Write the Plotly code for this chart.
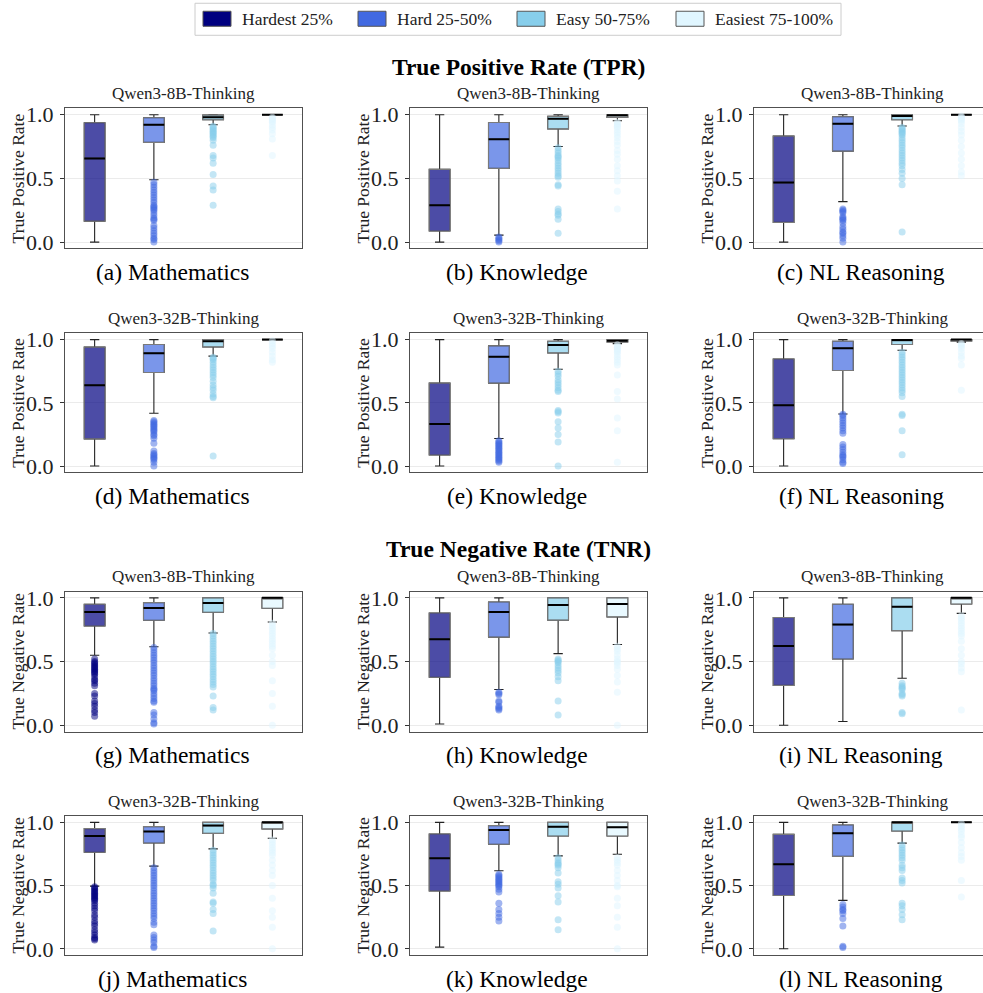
import plotly.graph_objects as go

W, H = 983, 993
FONT = "Liberation Serif"

# ---------------- data ----------------
difficulty = ["Hardest 25%", "Hard 25-50%", "Easy 50-75%", "Easiest 75-100%"]
colors = ["#000080", "#4169E1", "#87CEEB", "#E0F6FF"]
subjects = ["Mathematics", "Knowledge", "NL Reasoning"]
models = ["Qwen3-8B-Thinking", "Qwen3-32B-Thinking"]
letters = ["a", "b", "c", "d", "e", "f", "g", "h", "i", "j", "k", "l"]
section_titles = ["True Positive Rate (TPR)", "True Negative Rate (TNR)"]
metric_labels = ["True Positive Rate", "True Negative Rate"]
tick_vals = [0.0, 0.5, 1.0]
tick_text = ["0.0", "0.5", "1.0"]

# box stats per difficulty: [lower whisker, q1, median, q3, upper whisker]
tpr_8b_math = [[0.0, 0.165, 0.657, 0.937, 1.0], [0.49, 0.783, 0.921, 0.976, 1.0],
               [0.921, 0.96, 0.98, 0.997, 1.0], [1.0, 1.0, 1.0, 1.0, 1.0]]
tpr_8b_know = [[0.0, 0.087, 0.289, 0.571, 1.0], [0.055, 0.579, 0.808, 0.939, 1.0],
               [0.75, 0.889, 0.968, 0.987, 1.0], [0.953, 0.979, 0.995, 1.0, 1.0]]
tpr_8b_nlr = [[0.0, 0.155, 0.467, 0.832, 1.0], [0.318, 0.714, 0.929, 0.984, 1.0],
              [0.911, 0.961, 0.99, 1.0, 1.0], [1.0, 1.0, 1.0, 1.0, 1.0]]
tpr_32b_math = [[0.0, 0.215, 0.638, 0.94, 1.0], [0.417, 0.74, 0.892, 0.961, 1.0],
                [0.869, 0.942, 0.987, 1.0, 1.0], [1.0, 1.0, 1.0, 1.0, 1.0]]
tpr_32b_know = [[0.0, 0.087, 0.333, 0.656, 1.0], [0.218, 0.656, 0.864, 0.95, 1.0],
                [0.766, 0.895, 0.958, 0.987, 1.0], [0.968, 0.982, 0.99, 1.0, 1.0]]
tpr_32b_nlr = [[0.0, 0.216, 0.48, 0.847, 1.0], [0.412, 0.755, 0.931, 0.987, 1.0],
               [0.916, 0.961, 0.997, 1.0, 1.0], [0.98, 0.99, 1.0, 1.0, 1.0]]
tnr_8b_math = [[0.55, 0.779, 0.889, 0.95, 1.0], [0.616, 0.824, 0.921, 0.963, 1.0],
               [0.724, 0.887, 0.96, 1.0, 1.0], [0.811, 0.918, 1.0, 1.0, 1.0]]
tnr_8b_know = [[0.01, 0.377, 0.676, 0.881, 1.0], [0.281, 0.692, 0.889, 0.968, 1.0],
               [0.562, 0.825, 0.944, 1.0, 1.0], [0.634, 0.851, 0.952, 1.0, 1.0]]
tnr_8b_nlr = [[0.0, 0.313, 0.623, 0.846, 1.0], [0.03, 0.52, 0.79, 0.95, 1.0],
              [0.369, 0.743, 0.931, 1.0, 1.0], [0.878, 0.952, 1.0, 1.0, 1.0]]
tnr_32b_math = [[0.496, 0.764, 0.892, 0.95, 1.0], [0.654, 0.837, 0.927, 0.966, 1.0],
                [0.79, 0.913, 0.974, 1.0, 1.0], [0.874, 0.948, 1.0, 1.0, 1.0]]
tnr_32b_know = [[0.013, 0.457, 0.717, 0.908, 1.0], [0.617, 0.827, 0.94, 0.974, 1.0],
                [0.735, 0.892, 0.966, 1.0, 1.0], [0.748, 0.892, 0.961, 1.0, 1.0]]
tnr_32b_nlr = [[0.0, 0.422, 0.668, 0.905, 1.0], [0.383, 0.731, 0.913, 0.979, 1.0],
               [0.836, 0.931, 1.0, 1.0, 1.0], [1.0, 1.0, 1.0, 1.0, 1.0]]

# outliers per difficulty
tpr_8b_math_out = [
    [],
    [0.47, 0.45, 0.43, 0.41, 0.39, 0.37, 0.35, 0.33, 0.31, 0.29, 0.28, 0.27, 0.26, 0.25, 0.23,
     0.21, 0.19, 0.18, 0.17, 0.13, 0.11, 0.09, 0.07, 0.05, 0.03, 0.02, 0.0],
    [0.91, 0.90, 0.89, 0.88, 0.87, 0.86, 0.85, 0.84, 0.83, 0.82, 0.80, 0.76, 0.68, 0.66, 0.62,
     0.53, 0.44, 0.41, 0.29],
    [0.98, 0.97, 0.96, 0.95, 0.94, 0.92, 0.90, 0.88, 0.85, 0.81, 0.68]]
tpr_8b_know_out = [
    [],
    [0.04, 0.03, 0.02, 0.01, 0.0],
    [0.74, 0.72, 0.70, 0.68, 0.67, 0.66, 0.64, 0.62, 0.60, 0.58, 0.56, 0.54, 0.52, 0.51, 0.45,
     0.44, 0.26, 0.24, 0.22, 0.21, 0.18, 0.07],
    [0.94, 0.93, 0.92, 0.91, 0.90, 0.88, 0.86, 0.84, 0.82, 0.79, 0.76, 0.72, 0.69, 0.65, 0.60,
     0.56, 0.52, 0.48, 0.40, 0.26]]
tpr_8b_nlr_out = [
    [],
    [0.26, 0.25, 0.24, 0.23, 0.20, 0.19, 0.18, 0.17, 0.15, 0.12, 0.10, 0.08, 0.07, 0.05, 0.03, 0.0],
    [0.90, 0.89, 0.88, 0.87, 0.86, 0.85, 0.84, 0.82, 0.80, 0.78, 0.76, 0.74, 0.72, 0.70, 0.68,
     0.66, 0.64, 0.62, 0.60, 0.57, 0.54, 0.50, 0.45, 0.08],
    [0.99, 0.98, 0.97, 0.96, 0.95, 0.93, 0.90, 0.87, 0.84, 0.80, 0.75, 0.70, 0.65, 0.60, 0.55, 0.52]]
tpr_32b_math_out = [
    [],
    [0.36, 0.35, 0.34, 0.33, 0.32, 0.31, 0.30, 0.29, 0.28, 0.27, 0.25, 0.24, 0.22, 0.18, 0.12,
     0.10, 0.09, 0.08, 0.07, 0.06, 0.05, 0.03, 0.0],
    [0.86, 0.85, 0.84, 0.82, 0.80, 0.78, 0.76, 0.74, 0.72, 0.70, 0.67, 0.64, 0.62, 0.60, 0.57,
     0.55, 0.54, 0.08],
    [0.99, 0.97, 0.95, 0.93, 0.90, 0.87, 0.84, 0.82]]
tpr_32b_know_out = [
    [],
    [0.20, 0.19, 0.18, 0.17, 0.16, 0.15, 0.14, 0.13, 0.12, 0.11, 0.10, 0.09, 0.08, 0.07, 0.06,
     0.05, 0.04, 0.03],
    [0.75, 0.73, 0.71, 0.68, 0.66, 0.64, 0.62, 0.60, 0.59, 0.44, 0.43, 0.42, 0.35, 0.30, 0.25,
     0.19, 0.0],
    [0.96, 0.95, 0.94, 0.93, 0.92, 0.91, 0.90, 0.88, 0.86, 0.84, 0.82, 0.80, 0.72, 0.59, 0.53,
     0.38, 0.28, 0.03]]
tpr_32b_nlr_out = [
    [],
    [0.41, 0.40, 0.38, 0.36, 0.34, 0.32, 0.30, 0.28, 0.26, 0.17, 0.15, 0.13, 0.11, 0.09, 0.08,
     0.07, 0.05, 0.03, 0.02],
    [0.90, 0.88, 0.86, 0.84, 0.82, 0.80, 0.78, 0.76, 0.74, 0.72, 0.70, 0.68, 0.66, 0.64, 0.62,
     0.60, 0.58, 0.55, 0.41, 0.40, 0.28, 0.09],
    [0.97, 0.96, 0.95, 0.93, 0.90, 0.87, 0.85, 0.80, 0.60]]
tnr_8b_math_out = [
    [0.52, 0.50, 0.49, 0.48, 0.47, 0.46, 0.45, 0.44, 0.43, 0.42, 0.41, 0.40, 0.38, 0.36, 0.35,
     0.33, 0.31, 0.25, 0.23, 0.19, 0.17, 0.15, 0.12, 0.10, 0.07],
    [0.61, 0.59, 0.57, 0.55, 0.53, 0.51, 0.49, 0.47, 0.45, 0.43, 0.41, 0.39, 0.37, 0.35, 0.33,
     0.31, 0.29, 0.28, 0.27, 0.25, 0.23, 0.21, 0.19, 0.18, 0.10, 0.08, 0.05, 0.02, 0.01],
    [0.72, 0.70, 0.68, 0.66, 0.64, 0.62, 0.60, 0.58, 0.56, 0.54, 0.52, 0.50, 0.48, 0.46, 0.44,
     0.42, 0.40, 0.38, 0.36, 0.34, 0.32, 0.30, 0.23, 0.14, 0.12],
    [0.80, 0.78, 0.76, 0.74, 0.72, 0.70, 0.68, 0.66, 0.64, 0.62, 0.60, 0.55, 0.50, 0.47, 0.35,
     0.25, 0.15, 0.0]]
tnr_8b_know_out = [
    [],
    [0.26, 0.25, 0.24, 0.19, 0.18, 0.15, 0.14, 0.13, 0.12],
    [0.52, 0.51, 0.50, 0.49, 0.47, 0.45, 0.43, 0.41, 0.38, 0.35, 0.19, 0.08],
    [0.62, 0.60, 0.58, 0.55, 0.52, 0.50, 0.49, 0.47, 0.44, 0.39, 0.34, 0.26, 0.0]]
tnr_8b_nlr_out = [
    [],
    [],
    [0.33, 0.31, 0.30, 0.29, 0.28, 0.25, 0.24, 0.23, 0.10, 0.09],
    [0.86, 0.84, 0.82, 0.80, 0.78, 0.76, 0.74, 0.72, 0.70, 0.66, 0.60, 0.55, 0.50, 0.48, 0.45,
     0.42, 0.12]]
tnr_32b_math_out = [
    [0.49, 0.48, 0.47, 0.46, 0.45, 0.44, 0.43, 0.42, 0.41, 0.40, 0.39, 0.38, 0.36, 0.34, 0.32,
     0.30, 0.27, 0.25, 0.22, 0.20, 0.18, 0.15, 0.13, 0.11, 0.09, 0.08, 0.07],
    [0.64, 0.62, 0.60, 0.58, 0.56, 0.54, 0.52, 0.50, 0.48, 0.46, 0.44, 0.42, 0.40, 0.38, 0.36,
     0.34, 0.32, 0.30, 0.28, 0.26, 0.24, 0.21, 0.19, 0.11, 0.09, 0.07, 0.05, 0.02, 0.01],
    [0.78, 0.76, 0.74, 0.72, 0.70, 0.68, 0.66, 0.64, 0.62, 0.60, 0.58, 0.56, 0.54, 0.51, 0.50,
     0.48, 0.44, 0.37, 0.36, 0.31, 0.28, 0.14],
    [0.86, 0.84, 0.82, 0.80, 0.78, 0.76, 0.74, 0.70, 0.66, 0.62, 0.58, 0.50, 0.40, 0.30, 0.25,
     0.17, 0.0]]
tnr_32b_know_out = [
    [],
    [0.59, 0.58, 0.57, 0.56, 0.55, 0.54, 0.53, 0.52, 0.51, 0.50, 0.49, 0.47, 0.45, 0.36, 0.31,
     0.28, 0.25, 0.22],
    [0.72, 0.70, 0.68, 0.67, 0.66, 0.64, 0.60, 0.53, 0.51, 0.48, 0.42, 0.37, 0.23, 0.15],
    [0.72, 0.70, 0.68, 0.66, 0.62, 0.58, 0.54, 0.50, 0.49, 0.40, 0.34, 0.25, 0.17, 0.0]]
tnr_32b_nlr_out = [
    [],
    [0.35, 0.33, 0.31, 0.30, 0.28, 0.24, 0.18, 0.02, 0.01],
    [0.82, 0.80, 0.78, 0.76, 0.74, 0.72, 0.70, 0.66, 0.64, 0.62, 0.56, 0.54, 0.52, 0.36, 0.34,
     0.31, 0.27, 0.23],
    [0.99, 0.97, 0.95, 0.93, 0.90, 0.88, 0.84, 0.80, 0.76, 0.73, 0.70, 0.54, 0.41]]

panel_stats = [tpr_8b_math, tpr_8b_know, tpr_8b_nlr, tpr_32b_math, tpr_32b_know, tpr_32b_nlr,
               tnr_8b_math, tnr_8b_know, tnr_8b_nlr, tnr_32b_math, tnr_32b_know, tnr_32b_nlr]
panel_outliers = [tpr_8b_math_out, tpr_8b_know_out, tpr_8b_nlr_out, tpr_32b_math_out,
                  tpr_32b_know_out, tpr_32b_nlr_out, tnr_8b_math_out, tnr_8b_know_out,
                  tnr_8b_nlr_out, tnr_32b_math_out, tnr_32b_know_out, tnr_32b_nlr_out]

# ---------------- layout geometry (target pixels) ----------------
col_px = [(65, 302), (410, 647), (754, 991)]
row_px = [(108, 248), (332.7, 471.7), (590.7, 730.7), (815, 954)]
BOX_W = 0.35
# vertical correction for the capture (measured on previous render)
V_OFF, V_SCALE = 5.74, 0.987


def rgba(hexc, a):
    h = hexc.lstrip("#")
    r, g, b = int(h[0:2], 16), int(h[2:4], 16), int(h[4:6], 16)
    return f"rgba({r},{g},{b},{a})"


def px(x):
    return x / W


def py(y):
    return 1 - ((y - V_OFF) / V_SCALE) / H


fig = go.Figure()
layout_axes = {}
annotations = []
shapes = []
median_traces = []
outlier_traces = []

for k in range(12):
    r, c = divmod(k, 3)
    xname = "x" if k == 0 else f"x{k + 1}"
    yname = "y" if k == 0 else f"y{k + 1}"
    x0, x1 = col_px[c]
    y0, y1 = row_px[r]
    visible_right = min(x1, W)
    xmax = -0.5 + 4 * (visible_right - x0) / (x1 - x0)

    layout_axes["xaxis" if k == 0 else f"xaxis{k + 1}"] = dict(
        domain=[px(x0), px(visible_right)], range=[-0.5, xmax], anchor=yname,
        showticklabels=False, ticks="", showgrid=False, zeroline=False,
        showline=True, mirror=True, linecolor="#505050", linewidth=1.2, fixedrange=True)
    layout_axes["yaxis" if k == 0 else f"yaxis{k + 1}"] = dict(
        domain=[py(y1), py(y0)], range=[-0.05, 1.05], anchor=xname,
        tickvals=tick_vals, ticktext=tick_text, ticks="outside", ticklen=4,
        tickwidth=1, tickcolor="#333", ticklabelstandoff=2,
        tickfont=dict(family=FONT, size=22, color="#222"),
        showgrid=True, gridcolor="#ebebeb", gridwidth=1, zeroline=False,
        showline=True, mirror=(visible_right >= x1), linecolor="#505050", linewidth=1.2,
        fixedrange=True)

    stats = panel_stats[k]
    outs = panel_outliers[k]
    for i in range(4):
        lo, q1, med, q3, hi = stats[i]
        # whiskers + caps (no fill)
        fig.add_trace(go.Box(
            x=[i], q1=[q1], median=[med], q3=[q3], lowerfence=[lo], upperfence=[hi],
            width=BOX_W, whiskerwidth=0.45, boxpoints=False,
            line=dict(color="#222", width=1.1), fillcolor="rgba(0,0,0,0)",
            xaxis=xname, yaxis=yname, showlegend=False, hoverinfo="skip"))
        # box body with grey edge
        fig.add_trace(go.Box(
            x=[i], q1=[q1], median=[med], q3=[q3], lowerfence=[q1], upperfence=[q3],
            width=BOX_W, whiskerwidth=0, boxpoints=False,
            line=dict(color="#7a7a7a", width=1.1), fillcolor=rgba(colors[i], 0.7),
            xaxis=xname, yaxis=yname, showlegend=False, hoverinfo="skip"))
        median_traces.append(go.Scatter(
            x=[i - BOX_W / 2, i + BOX_W / 2], y=[med, med], mode="lines",
            line=dict(color="black", width=2), xaxis=xname, yaxis=yname,
            showlegend=False, hoverinfo="skip"))
        if outs[i]:
            outlier_traces.append(go.Scatter(
                x=[i] * len(outs[i]), y=outs[i], mode="markers",
                marker=dict(size=7, color=rgba(colors[i], 0.5), line=dict(width=0)),
                xaxis=xname, yaxis=yname, showlegend=False, hoverinfo="skip"))

    xc = (x0 + x1) / 2
    annotations.append(dict(
        text=models[r % 2], x=px(xc), y=py(y0 - 14.5), xref="paper", yref="paper",
        showarrow=False, xanchor="center", yanchor="middle",
        font=dict(family=FONT, size=17, color="#222")))
    annotations.append(dict(
        text=f"({letters[k]}) {subjects[c]}", x=px(xc - 11.5), y=py(y1 + 23.5),
        xref="paper", yref="paper", showarrow=False, xanchor="center", yanchor="middle",
        font=dict(family=FONT, size=23.5, color="black")))
    annotations.append(dict(
        text=metric_labels[r // 2], x=px(x0 - 47), y=py((y0 + y1) / 2),
        xref="paper", yref="paper", showarrow=False, xanchor="center", yanchor="middle",
        textangle=-90, font=dict(family=FONT, size=17.5, color="#222")))

for t in median_traces + outlier_traces:
    fig.add_trace(t)

for s, ypix in zip(section_titles, [67, 548]):
    annotations.append(dict(
        text=f"<b>{s}</b>", x=px(518), y=py(ypix), xref="paper", yref="paper",
        showarrow=False, xanchor="center", yanchor="middle",
        font=dict(family=FONT, size=23.5, color="black")))

# legend (manual, matching patch style)
shapes.append(dict(type="rect", xref="paper", yref="paper",
                   x0=px(195), x1=px(841), y0=py(35), y1=py(3),
                   line=dict(color="#cccccc", width=1), fillcolor="white"))
legend_patch_x = [203, 358, 517, 676]
for i, name in enumerate(difficulty):
    lx = legend_patch_x[i]
    shapes.append(dict(type="rect", xref="paper", yref="paper",
                       x0=px(lx), x1=px(lx + 28), y0=py(26), y1=py(11),
                       line=dict(color="#555", width=1), fillcolor=colors[i]))
    annotations.append(dict(
        text=name, x=px(lx + 37), y=py(18.5), xref="paper", yref="paper",
        showarrow=False, xanchor="left", yanchor="middle",
        font=dict(family=FONT, size=17.5, color="#222")))

fig.update_layout(
    width=W, height=H, margin=dict(l=0, r=0, t=0, b=0),
    paper_bgcolor="white", plot_bgcolor="white",
    boxmode="overlay", showlegend=False,
    annotations=annotations, shapes=shapes,
    font=dict(family=FONT),
    **layout_axes)

fig.write_html("out.html")
